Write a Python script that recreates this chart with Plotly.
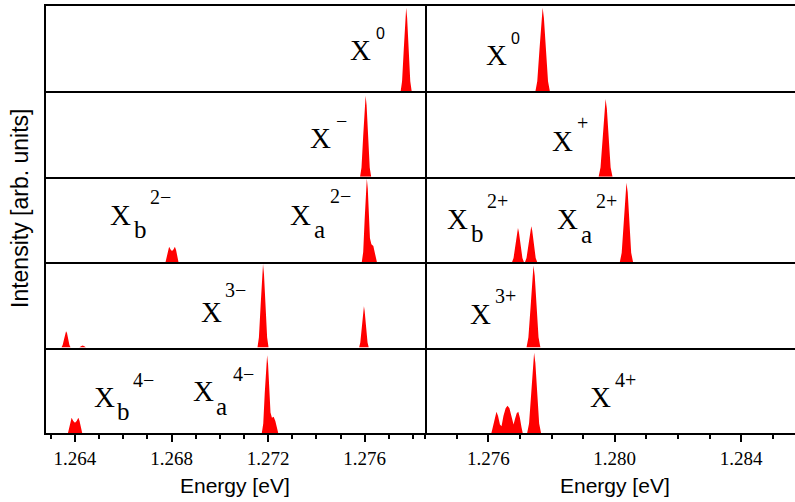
import plotly.graph_objects as go
from plotly.subplots import make_subplots

# ---------------- data (energies in eV, intensity normalised to panel height) -------------
# left column (negative states)
E_L1 = [1.27749, 1.27755, 1.27762, 1.27768, 1.27772, 1.27776, 1.27782, 1.27789, 1.27795]
I_L1 = [0, 0.12, 0.49, 0.86, 0.98, 0.86, 0.49, 0.12, 0]

E_L2 = [1.27581, 1.27587, 1.27594, 1.27600, 1.27604, 1.27608, 1.27614, 1.27621, 1.27627]
I_L2 = [0, 0.11, 0.48, 0.84, 0.95, 0.84, 0.48, 0.11, 0]

E_L3 = [1.26775, 1.26781, 1.26785, 1.26790, 1.26796, 1.26802, 1.26808, 1.26814, 1.26819, 1.26823, 1.26829,
        1.27588, 1.27594, 1.27600, 1.27605, 1.27609, 1.27613, 1.27618, 1.27622, 1.27628, 1.27636, 1.27643, 1.27651]
I_L3 = [0, 0.07, 0.14, 0.18, 0.15, 0.13, 0.15, 0.18, 0.14, 0.07, 0,
        0, 0.12, 0.50, 0.86, 0.98, 0.86, 0.50, 0.28, 0.21, 0.19, 0.10, 0]

E_L4 = [1.26344, 1.26349, 1.26355, 1.26359, 1.26363, 1.26367, 1.26371, 1.26377, 1.26382,
        1.26418, 1.26425, 1.26432, 1.26439, 1.26446,
        1.27156, 1.27162, 1.27169, 1.27175, 1.27179, 1.27183, 1.27189, 1.27196, 1.27202,
        1.27577, 1.27582, 1.27589, 1.27594, 1.27597, 1.27600, 1.27605, 1.27612, 1.27617]
I_L4 = [0, 0.03, 0.10, 0.17, 0.19, 0.17, 0.10, 0.03, 0,
        0, 0.015, 0.025, 0.015, 0,
        0, 0.12, 0.49, 0.86, 0.98, 0.86, 0.49, 0.12, 0,
        0, 0.06, 0.24, 0.43, 0.485, 0.43, 0.24, 0.06, 0]

E_L5 = [1.26371, 1.26377, 1.26381, 1.26386, 1.26393, 1.26400, 1.26407, 1.26414, 1.26419, 1.26424, 1.26430,
        1.27174, 1.27180, 1.27186, 1.27192, 1.27196, 1.27200, 1.27205, 1.27210, 1.27216, 1.27223, 1.27230,
        1.27236, 1.27242]
I_L5 = [0, 0.08, 0.14, 0.18, 0.14, 0.12, 0.14, 0.18, 0.14, 0.07, 0,
        0, 0.11, 0.46, 0.80, 0.91, 0.80, 0.46, 0.24, 0.18, 0.19, 0.14,
        0.06, 0]

# right column (positive states)
E_R1 = [1.27749, 1.27755, 1.27762, 1.27768, 1.27772, 1.27776, 1.27782, 1.27789, 1.27795]
I_R1 = [0, 0.12, 0.49, 0.86, 0.98, 0.86, 0.49, 0.12, 0]

E_R2 = [1.27949, 1.27955, 1.27962, 1.27967, 1.27971, 1.27975, 1.27980, 1.27987, 1.27993]
I_R2 = [0, 0.11, 0.46, 0.80, 0.91, 0.80, 0.46, 0.11, 0]

E_R3 = [1.27675, 1.27680, 1.27686, 1.27691, 1.27694, 1.27697, 1.27702, 1.27708, 1.27713,
        1.27716, 1.27721, 1.27728, 1.27733, 1.27736, 1.27739, 1.27744, 1.27750, 1.27755,
        1.28016, 1.28022, 1.28028, 1.28033, 1.28037, 1.28041, 1.28046, 1.28052, 1.28058]
I_R3 = [0, 0.05, 0.20, 0.35, 0.40, 0.35, 0.20, 0.05, 0,
        0, 0.05, 0.21, 0.37, 0.42, 0.37, 0.21, 0.05, 0,
        0, 0.11, 0.47, 0.82, 0.93, 0.82, 0.47, 0.11, 0]

E_R4 = [1.27721, 1.27727, 1.27734, 1.27739, 1.27743, 1.27747, 1.27752, 1.27759, 1.27765]
I_R4 = [0, 0.12, 0.48, 0.84, 0.96, 0.84, 0.48, 0.12, 0]

E_R5 = [1.27610, 1.27616, 1.27621, 1.27626, 1.27631, 1.27637, 1.27642, 1.27648, 1.27655, 1.27661,
        1.27667, 1.27674, 1.27680, 1.27685, 1.27690, 1.27695, 1.27700, 1.27705, 1.27709,
        1.27723, 1.27729, 1.27736, 1.27741, 1.27745, 1.27749, 1.27754, 1.27761, 1.27767]
I_R5 = [0, 0.10, 0.20, 0.25, 0.20, 0.10, 0.08, 0.20, 0.29, 0.32,
        0.29, 0.18, 0.10, 0.17, 0.23, 0.25, 0.18, 0.07, 0,
        0, 0.11, 0.47, 0.82, 0.94, 0.82, 0.47, 0.11, 0]

LEFT_TICKS = [1.264, 1.268, 1.272, 1.276]
RIGHT_TICKS = [1.276, 1.280, 1.284]
LEFT_RANGE = [1.2628, 1.2785]
RIGHT_RANGE = [1.2740, 1.2857]

X_LABEL = "Energy [eV]"
Y_LABEL = "Intensity [arb. units]"

SPECTRA = [
    (1, 1, E_L1, I_L1), (2, 1, E_L2, I_L2), (3, 1, E_L3, I_L3), (4, 1, E_L4, I_L4), (5, 1, E_L5, I_L5),
    (1, 2, E_R1, I_R1), (2, 2, E_R2, I_R2), (3, 2, E_R3, I_R3), (4, 2, E_R4, I_R4), (5, 2, E_R5, I_R5),
]

# ---------------- figure -------------
ML, MR, MT, MB = 46, 0, 6, 69
W, H = 795, 502
PW, PH = W - ML - MR, H - MT - MB

fig = make_subplots(rows=5, cols=2, horizontal_spacing=0, vertical_spacing=0,
                    column_widths=[379, 370])

for r, c, e, i in SPECTRA:
    fig.add_trace(go.Scatter(x=e, y=i, mode="lines", fill="tozeroy",
                             fillcolor="#ff0000", line=dict(color="#ff0000", width=0),
                             hoverinfo="skip", showlegend=False), row=r, col=c)

for r in range(1, 6):
    for c in (1, 2):
        bottom = (r == 5)
        fig.update_xaxes(
            range=LEFT_RANGE if c == 1 else RIGHT_RANGE,
            showline=True, linecolor="black", linewidth=2, mirror=(r == 1),
            showgrid=False, zeroline=False,
            showticklabels=bottom,
            ticks="outside" if bottom else "",
            tickmode="array", tickvals=LEFT_TICKS if c == 1 else RIGHT_TICKS,
            tickformat=".3f",
            ticklen=7, tickwidth=1.5, tickcolor="black",
            tickfont=dict(family="Liberation Serif", size=19, color="black"),
            minor=dict(ticks="outside" if bottom else "", ticklen=4, tickwidth=1.5,
                       tickcolor="black", dtick=0.001, tick0=1.264, showgrid=False),
            row=r, col=c)
        fig.update_yaxes(
            range=[0, 1], showline=(c == 1), linecolor="black", linewidth=2,
            mirror=(c == 1), showgrid=False, zeroline=False,
            showticklabels=False, ticks="",
            row=r, col=c)


def px2paper(px, py):
    return (px - ML) / PW, (MT + PH - py) / PH


def add_text(text, px, py_base, family, size, k=0.34, anchor="left"):
    x, y = px2paper(px, py_base - k * size)
    fig.add_annotation(text=text, x=x, y=y, xref="paper", yref="paper",
                       xanchor=anchor, yanchor="middle", showarrow=False,
                       borderpad=0, font=dict(family=family, size=size, color="black"))


LBL = "Liberation Serif"
SANS = "Liberation Sans"
BIG, SUB, SUP = 29, 25, 20
NUDGE = 1.5

# big X glyphs: (left px, right px, baseline px) -> centred
for x0, x1, py in [(351, 370.7, 60), (487.7, 506, 65), (310.7, 330, 148.3), (553.3, 572.3, 150.7),
                   (111, 130, 225), (291.7, 310, 225), (201.7, 221, 321.7), (94.3, 114, 407.3),
                   (194, 212.7, 400.7), (448.3, 466.7, 229.3), (558.3, 576.7, 229.3),
                   (470.7, 490, 324), (590.7, 610, 407.3)]:
    add_text("X", (x0 + x1) / 2, py, LBL, BIG, anchor="center")

# subscripts
for t, px, py in [("b", 131.7, 238.3), ("a", 311.7, 238.3), ("b", 114, 420), ("a", 213.3, 415),
                  ("b", 468.3, 241.7), ("a", 578.3, 242.7)]:
    add_text(t, px + NUDGE, py, LBL, SUB)

# superscripts
add_text("0", 373 + NUDGE, 39.3, SANS, 16)
add_text("0", 508 + NUDGE, 44, SANS, 16)
for t, px, py in [("−", 333, 128), ("+", 574, 130),
                  ("2−", 147.3, 203.3), ("2−", 327.3, 203), ("3−", 222.3, 296.7),
                  ("4−", 130, 386.7), ("4−", 230, 380.7),
                  ("2+", 484.3, 208.3), ("2+", 593.3, 208), ("3+", 492.7, 302.7),
                  ("4+", 612.7, 386.7)]:
    add_text(t, px + NUDGE, py, LBL, SUP)

# axis titles
add_text(X_LABEL, 235.5, 493, SANS, 21, anchor="center")
add_text(X_LABEL, 614.5, 493, SANS, 21, anchor="center")
xa, ya = px2paper(20, 209)
fig.add_annotation(text=Y_LABEL, x=xa, y=ya, xref="paper", yref="paper",
                   xanchor="center", yanchor="middle", textangle=-90, showarrow=False,
                   font=dict(family=SANS, size=23, color="black"))

fig.update_layout(width=W, height=H, margin=dict(l=ML, r=MR, t=MT, b=MB),
                  paper_bgcolor="white", plot_bgcolor="white", showlegend=False)

fig.write_html("out.html", config={"displayModeBar": False},
               post_script="document.body.style.margin='0px';document.body.style.overflow='hidden';")
